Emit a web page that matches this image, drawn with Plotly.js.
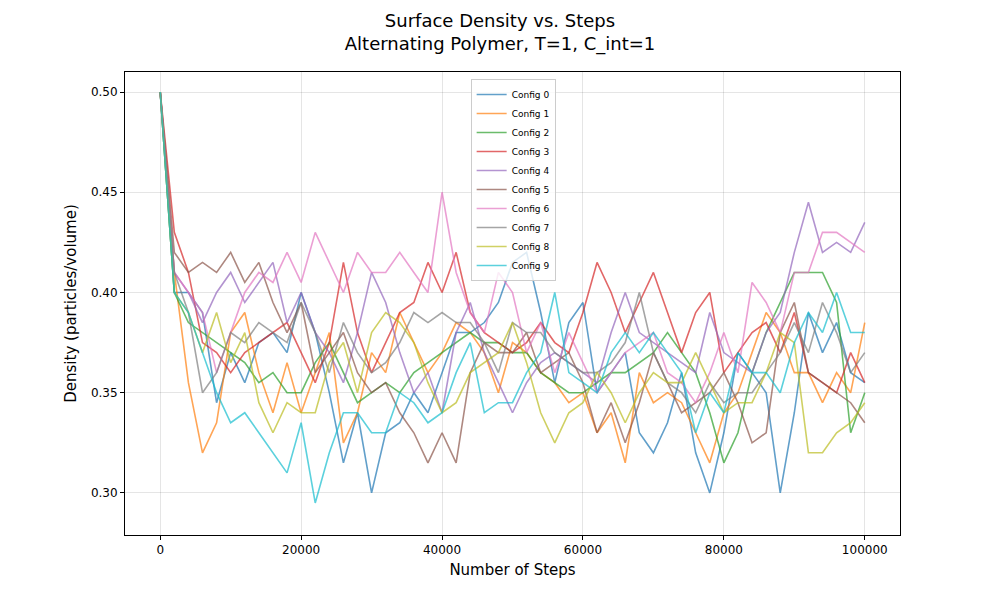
<!DOCTYPE html>
<html>
<head>
<meta charset="utf-8">
<script src="https://cdn.plot.ly/plotly-3.0.1.min.js"></script>
<style>body{margin:0;background:#fff}</style>
</head>
<body>
<div id="chart" style="width:1000px;height:600px"></div>
<script>
// steps sampled every 2000
var steps = [];
for (var s = 0; s <= 100000; s += 2000) steps.push(s);

var labels = ['Config 0','Config 1','Config 2','Config 3','Config 4','Config 5','Config 6','Config 7','Config 8','Config 9'];
var colors = ['#1f77b4','#ff7f0e','#2ca02c','#d62728','#9467bd','#8c564b','#e377c2','#7f7f7f','#bcbd22','#17becf'];

var config0 = [0.50,0.40,0.40,0.39,0.345,0.37,0.355,0.375,0.38,0.37,0.40,0.38,0.35,0.315,0.34,0.30,0.33,0.335,0.35,0.34,0.36,0.38,0.38,0.385,0.395,0.415,0.42,0.39,0.355,0.385,0.395,0.35,0.36,0.37,0.33,0.32,0.335,0.36,0.32,0.30,0.33,0.37,0.36,0.35,0.30,0.34,0.39,0.37,0.385,0.36,0.355];
var config1 = [0.50,0.41,0.355,0.32,0.335,0.38,0.39,0.36,0.34,0.365,0.34,0.36,0.38,0.325,0.34,0.37,0.36,0.39,0.375,0.36,0.37,0.385,0.38,0.37,0.35,0.375,0.37,0.36,0.355,0.345,0.35,0.33,0.34,0.315,0.36,0.345,0.35,0.345,0.33,0.315,0.34,0.35,0.37,0.39,0.38,0.36,0.36,0.345,0.36,0.35,0.385];
var config2 = [0.50,0.40,0.385,0.38,0.375,0.37,0.365,0.355,0.36,0.35,0.35,0.365,0.375,0.36,0.345,0.35,0.355,0.35,0.36,0.365,0.37,0.375,0.38,0.375,0.375,0.37,0.37,0.36,0.355,0.35,0.35,0.355,0.36,0.36,0.365,0.37,0.38,0.37,0.36,0.34,0.315,0.33,0.36,0.38,0.395,0.41,0.41,0.41,0.395,0.33,0.35];
var config3 = [0.50,0.43,0.41,0.375,0.37,0.36,0.37,0.375,0.38,0.385,0.37,0.355,0.375,0.415,0.38,0.36,0.375,0.39,0.395,0.415,0.40,0.42,0.39,0.38,0.375,0.37,0.375,0.385,0.375,0.37,0.39,0.415,0.40,0.38,0.395,0.41,0.39,0.37,0.39,0.40,0.36,0.37,0.38,0.385,0.37,0.39,0.36,0.355,0.35,0.37,0.355];
var config4 = [0.50,0.41,0.40,0.385,0.40,0.41,0.395,0.405,0.415,0.385,0.40,0.38,0.37,0.355,0.38,0.41,0.395,0.37,0.35,0.36,0.34,0.38,0.395,0.37,0.355,0.34,0.355,0.365,0.37,0.365,0.36,0.355,0.38,0.40,0.38,0.375,0.37,0.365,0.36,0.39,0.37,0.365,0.36,0.38,0.39,0.42,0.445,0.42,0.425,0.42,0.435];
var config5 = [0.50,0.42,0.41,0.415,0.41,0.42,0.405,0.415,0.395,0.38,0.395,0.36,0.37,0.38,0.36,0.35,0.355,0.34,0.33,0.315,0.33,0.315,0.36,0.375,0.37,0.37,0.38,0.36,0.365,0.37,0.355,0.33,0.345,0.325,0.345,0.37,0.355,0.34,0.345,0.35,0.36,0.345,0.325,0.33,0.38,0.395,0.36,0.355,0.35,0.345,0.335];
var config6 = [0.50,0.41,0.40,0.39,0.36,0.38,0.40,0.41,0.405,0.42,0.405,0.43,0.415,0.40,0.42,0.41,0.41,0.42,0.41,0.40,0.45,0.41,0.39,0.38,0.41,0.40,0.37,0.385,0.36,0.38,0.365,0.35,0.36,0.37,0.375,0.38,0.36,0.355,0.345,0.36,0.38,0.36,0.405,0.395,0.38,0.41,0.41,0.43,0.43,0.425,0.42];
var config7 = [0.50,0.41,0.39,0.35,0.36,0.38,0.375,0.385,0.38,0.375,0.395,0.38,0.36,0.385,0.37,0.36,0.365,0.375,0.39,0.385,0.39,0.385,0.385,0.375,0.36,0.385,0.38,0.38,0.37,0.365,0.36,0.36,0.365,0.375,0.40,0.37,0.355,0.35,0.34,0.355,0.345,0.35,0.35,0.36,0.37,0.385,0.37,0.395,0.38,0.36,0.37];
var config8 = [0.50,0.40,0.39,0.37,0.39,0.365,0.38,0.345,0.33,0.345,0.34,0.34,0.365,0.375,0.35,0.38,0.39,0.385,0.375,0.355,0.34,0.345,0.36,0.365,0.37,0.385,0.365,0.34,0.325,0.34,0.345,0.36,0.35,0.335,0.35,0.36,0.355,0.355,0.37,0.355,0.34,0.345,0.345,0.36,0.38,0.375,0.32,0.32,0.33,0.335,0.345];
var config9 = [0.50,0.40,0.39,0.37,0.35,0.335,0.34,0.33,0.32,0.31,0.335,0.295,0.32,0.34,0.34,0.33,0.33,0.35,0.345,0.335,0.34,0.36,0.375,0.34,0.345,0.345,0.36,0.37,0.40,0.36,0.355,0.35,0.37,0.38,0.37,0.38,0.37,0.36,0.33,0.35,0.34,0.37,0.36,0.36,0.35,0.375,0.39,0.38,0.40,0.38,0.38];

var series = [config0, config1, config2, config3, config4, config5, config6, config7, config8, config9];

var data = series.map(function (v, i) {
  return {
    x: steps, y: v, name: labels[i], type: 'scatter', mode: 'lines',
    opacity: 0.7, line: {color: colors[i], width: 1.6}
  };
});

var axisBase = {
  showline: true, mirror: true, linecolor: '#000', linewidth: 1,
  ticks: 'outside', ticklen: 4, tickcolor: '#000',
  showgrid: true, gridcolor: 'rgba(0,0,0,0.1)', zeroline: false,
  tickfont: {size: 12, color: '#000'}
};

var layout = {
  font: {family: 'DejaVu Sans', color: '#000'},
  title: {text: 'Surface Density vs. Steps<br>Alternating Polymer, T=1, C_int=1', x: 0.5, y: 0.955, font: {size: 18}},
  margin: {l: 125, r: 100, t: 72, b: 65},
  paper_bgcolor: '#fff', plot_bgcolor: '#fff',
  xaxis: Object.assign({}, axisBase, {range: [-5000, 105000], tickvals: [0, 20000, 40000, 60000, 80000, 100000], tickformat: 'd',
    title: {text: 'Number of Steps', font: {size: 15}, standoff: 8}}),
  yaxis: Object.assign({}, axisBase, {range: [0.279, 0.51], tickvals: [0.30, 0.35, 0.40, 0.45, 0.50], tickformat: '.2f',
    title: {text: 'Density (particles/volume)', font: {size: 15}, standoff: 10}}),
  showlegend: true,
  legend: {x: 0.446, y: 0.985, xanchor: 'left', yanchor: 'top', bgcolor: 'rgba(255,255,255,0.8)',
    bordercolor: '#ccc', borderwidth: 1, font: {size: 9}, tracegroupgap: 0, itemwidth: 30}
};

Plotly.newPlot('chart', data, layout, {displayModeBar: false});
</script>
</body>
</html>
